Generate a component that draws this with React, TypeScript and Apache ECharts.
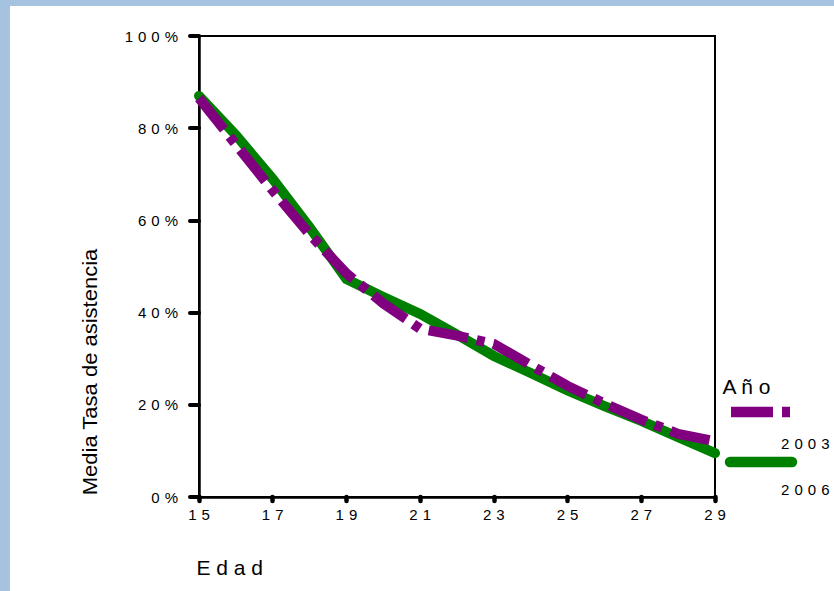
import React, { useEffect, useRef } from 'react';
import * as echarts from 'echarts';

const ages = ['15', '16', '17', '18', '19', '20', '21', '22', '23', '24', '25', '26', '27', '28', '29'];
const rate2003 = [86.5, 76.5, 66.5, 57, 48.5, 42, 36.5, 35, 33.2, 28.6, 24.1, 20.3, 16.8, 13.7, 12.1];
const rate2006 = [87, 78.5, 69, 58.5, 47.3, 43.4, 39.7, 35.2, 30.6, 26.9, 23.1, 19.7, 16.5, 13, 9.5];
const legendYears = ['2003', '2006'];
const yTitle = 'Media Tasa de asistencia';
const xTitle = 'Edad';
const legendTitle = 'Año';

const PURPLE = '#800080';
const GREEN = '#008000';
const BLUE = '#a5c3e0';
const FONT = '"Liberation Sans", Arial, sans-serif';
const GAP = '\u2004';

const spaced = (s: string, sep: string) => s.split('').join(sep);

export default function App() {
  const ref = useRef<HTMLDivElement>(null);
  useEffect(() => {
    document.body.style.margin = '0';
    if (!ref.current) return;
    const chart = echarts.init(ref.current, undefined, { renderer: 'svg' });
    chart.setOption({
      animation: false,
      backgroundColor: '#ffffff',
      grid: {
        left: 199,
        right: 119,
        top: 36,
        bottom: 94,
        show: true,
        borderColor: '#000',
        borderWidth: 2,
        backgroundColor: 'transparent',
      },
      xAxis: {
        type: 'category',
        data: ages,
        boundaryGap: false,
        axisLine: { lineStyle: { color: '#000', width: 2.5 } },
        axisTick: {
          show: true,
          interval: 1,
          length: 4,
          lineStyle: { color: '#000', width: 4.5, cap: 'round' },
        },
        axisLabel: {
          interval: 1,
          margin: 10,
          color: '#000',
          fontSize: 15,
          fontFamily: FONT,
          formatter: (v: string) => spaced(v, GAP),
        },
        splitLine: { show: false },
      },
      yAxis: {
        type: 'value',
        min: 0,
        max: 100,
        interval: 20,
        axisLine: { show: true, lineStyle: { color: '#000', width: 2.5 } },
        axisTick: {
          show: true,
          length: 9,
          lineStyle: { color: '#000', width: 4, cap: 'round' },
        },
        axisLabel: {
          margin: 21,
          color: '#000',
          fontSize: 15,
          fontFamily: FONT,
          padding: [4, 0, 0, 0],
          formatter: (v: number) => spaced(v + '%', GAP),
        },
        splitLine: { show: false },
      },
      series: [
        {
          name: legendYears[1],
          type: 'line',
          data: rate2006,
          symbol: 'none',
          z: 2,
          lineStyle: { color: GREEN, width: 10, cap: 'round', join: 'miter' },
        },
        {
          name: legendYears[0],
          type: 'line',
          data: rate2003,
          symbol: 'none',
          z: 3,
          lineStyle: { color: PURPLE, width: 10, type: [40, 9, 8, 9], cap: 'butt', join: 'miter' },
        },
      ],
      graphic: [
        { type: 'rect', shape: { x: 0, y: 0, width: 834, height: 6 }, style: { fill: BLUE }, z: 100 },
        { type: 'rect', shape: { x: 0, y: 0, width: 10, height: 591 }, style: { fill: BLUE }, z: 100 },
        {
          type: 'text',
          x: 90,
          y: 372,
          rotation: Math.PI / 2,
          scaleX: 1.1,
          style: {
            text: yTitle,
            font: `20px ${FONT}`,
            fill: '#000',
            align: 'center',
            verticalAlign: 'middle',
          },
        },
        {
          type: 'text',
          x: 196.5,
          y: 567.5,
          style: {
            text: spaced(xTitle, ' '),
            font: `21px ${FONT}`,
            fill: '#000',
            align: 'left',
            verticalAlign: 'middle',
          },
        },
        {
          type: 'text',
          x: 722.5,
          y: 386,
          style: {
            text: spaced(legendTitle, ' '),
            font: `21px ${FONT}`,
            fill: '#000',
            align: 'left',
            verticalAlign: 'middle',
          },
        },
        {
          type: 'line',
          shape: { x1: 731, y1: 412, x2: 790, y2: 412 },
          style: { stroke: PURPLE, lineWidth: 10.5, lineDash: [42, 9, 8.3, 9], lineCap: 'butt' },
        },
        {
          type: 'text',
          x: 829.5,
          y: 443,
          style: {
            text: spaced(legendYears[0], GAP),
            font: `15px ${FONT}`,
            fill: '#000',
            align: 'right',
            verticalAlign: 'middle',
          },
        },
        {
          type: 'line',
          shape: { x1: 730, y1: 462, x2: 792, y2: 462 },
          style: { stroke: GREEN, lineWidth: 10.5, lineCap: 'round' },
        },
        {
          type: 'text',
          x: 829.5,
          y: 489.5,
          style: {
            text: spaced(legendYears[1], GAP),
            font: `15px ${FONT}`,
            fill: '#000',
            align: 'right',
            verticalAlign: 'middle',
          },
        },
      ],
    });
    return () => chart.dispose();
  }, []);
  return (
    <div style={{ position: 'absolute', left: 0, top: 0, width: 834, height: 591 }}>
      <div ref={ref} style={{ width: 834, height: 591 }} />
    </div>
  );
}
